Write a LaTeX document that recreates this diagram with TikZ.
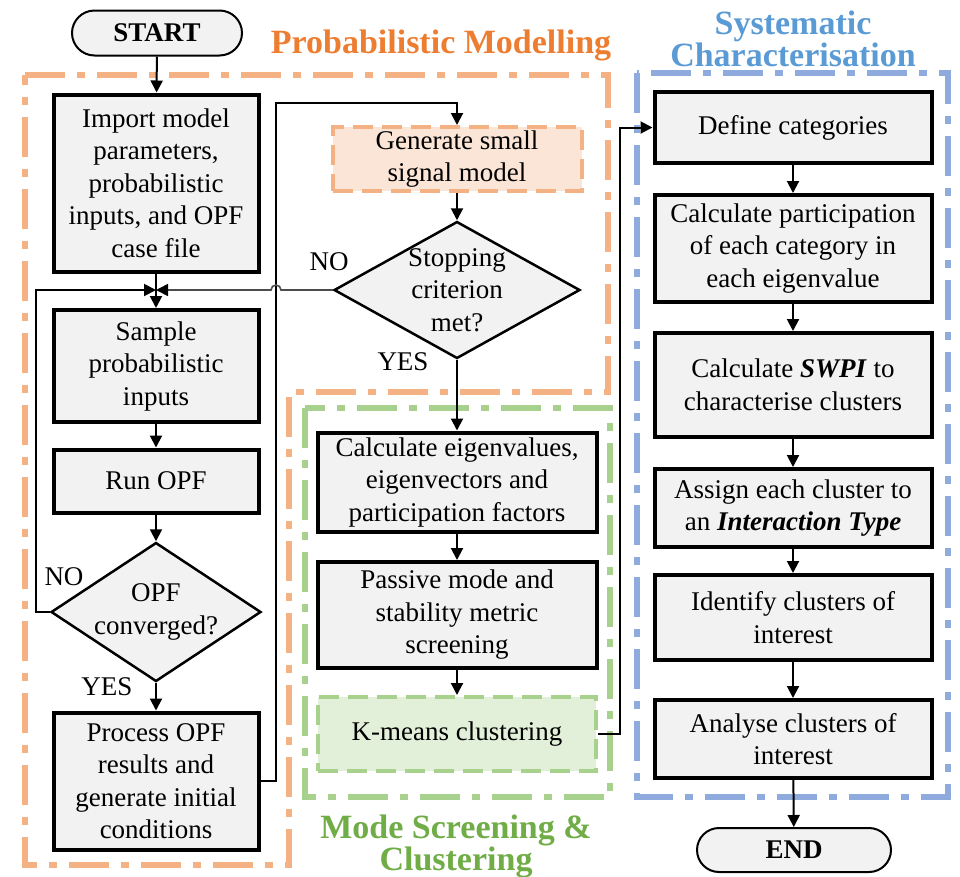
\documentclass[tikz,border=0pt]{standalone}
\usepackage{fontspec}
\setmainfont{Liberation Serif}
\usepackage{tikz}
\usetikzlibrary{arrows.meta, shapes.geometric, shapes.misc}
\definecolor{orgtitle}{HTML}{ED7D31}
\definecolor{orgline}{HTML}{F4B183}
\definecolor{orgfill}{HTML}{FBE5D6}
\definecolor{grntitle}{HTML}{70AD47}
\definecolor{grnline}{HTML}{A9D18E}
\definecolor{grnfill}{HTML}{E2F0D9}
\definecolor{blutitle}{HTML}{5B9BD5}
\definecolor{bluline}{HTML}{8FAADC}
\definecolor{boxfill}{HTML}{F2F2F2}
\tikzstyle{block} = [rectangle, draw, line width=4pt, fill=boxfill,
    align=center, inner sep=0pt, font=\fontsize{27pt}{32.5pt}\selectfont]
\tikzstyle{stage} = [rectangle, draw, line width=4pt, dash pattern=on 20pt off 9pt,
    align=center, inner sep=0pt, font=\fontsize{27pt}{32.5pt}\selectfont]
\tikzstyle{decision} = [diamond, draw, line width=2.5pt, fill=boxfill, inner sep=0pt]
\tikzstyle{qtext} = [align=center, inner sep=0pt, font=\fontsize{27pt}{32.5pt}\selectfont]
\tikzstyle{terminal} = [rounded rectangle, draw, line width=2pt, fill=boxfill,
    inner sep=0pt, font=\bfseries\fontsize{27pt}{32.5pt}\selectfont]

\begin{document}
\begin{tikzpicture}[
x=1pt, y=-1pt,
line/.style = {draw, line width=2pt, -{Triangle[length=12pt, width=12pt, black]}},
region/.style = {line width=6pt, dash pattern=on 40pt off 12pt on 8pt off 12pt},
title/.style = {font=\bfseries\fontsize{34pt}{30pt}\selectfont, align=center},
lbl/.style = {font=\fontsize{27pt}{32.5pt}\selectfont}
                        ]
\useasboundingbox (0,0) rectangle (960,876);
\fill[white] (0,0) rectangle (960,876);
\draw[region, orgline] (25,75) -- (608,75) -- (608,392) -- (289,392) -- (289,865) -- (25,865) -- cycle;
\draw[region, grnline] (305,408) rectangle (610,797);
\draw[region, bluline] (637,73) rectangle (948,797);
\node[title, orgtitle, anchor=base] (tprob) at (441,53) {Probabilistic Modelling};
\node[title, grntitle] (tmode) at (456,846) {Mode Screening \&\\Clustering};
\node[title, blutitle] (tsys) at (793,39) {Systematic\\Characterisation};

\node[terminal, minimum width=170pt, minimum height=45pt] (start) at (157,33) {START};
\node[block, minimum width=205pt, minimum height=177pt] (imp) at (156,183)
    {Import model\\parameters,\\probabilistic\\inputs, and OPF\\case file};
\coordinate (jn) at (156,290);
\node[block, minimum width=205pt, minimum height=112pt] (sample) at (156,366)
    {Sample\\probabilistic\\inputs};
\node[block, minimum width=205pt, minimum height=63pt] (run) at (156,481) {Run OPF};
\node[decision, minimum width=210pt, minimum height=139pt,
    label={[qtext]center:OPF\\converged?}] (opfq) at (156,612) {};
\node[block, minimum width=205pt, minimum height=137pt] (proc) at (156,781)
    {Process OPF\\results and\\generate initial\\conditions};
\node[stage, orgline, fill=orgfill, text=black, minimum width=249pt, minimum height=64pt] (gen) at (457,159)
    {Generate small\\signal model};
\node[decision, minimum width=246pt, minimum height=137pt,
    label={[qtext]center:Stopping\\criterion\\met?}] (stop) at (457,290) {};
\node[block, minimum width=279pt, minimum height=99pt] (eig) at (457,482)
    {Calculate eigenvalues,\\eigenvectors and\\participation factors};
\node[block, minimum width=279pt, minimum height=106pt] (pas) at (457,615)
    {Passive mode and\\stability metric\\screening};
\node[stage, grnline, fill=grnfill, text=black, minimum width=278pt, minimum height=74pt] (kmn) at (457,734)
    {K-means clustering};
\node[block, minimum width=277pt, minimum height=71pt] (def) at (793,127.5) {Define categories};
\node[block, minimum width=277pt, minimum height=107pt] (par) at (793,248.5)
    {Calculate participation\\of each category in\\each eigenvalue};
\node[block, minimum width=277pt, minimum height=104pt] (swpi) at (793,385)
    {Calculate \textbf{\textit{SWPI}} to\\characterise clusters};
\node[block, minimum width=277pt, minimum height=78pt] (asg) at (793,508)
    {Assign each cluster to\\an \textbf{\textit{Interaction Type}}};
\node[block, minimum width=277pt, minimum height=85pt] (idn) at (793,617.5)
    {Identify clusters of\\interest};
\node[block, minimum width=277pt, minimum height=78pt] (ana) at (793,739)
    {Analyse clusters of\\interest};
\node[terminal, minimum width=194pt, minimum height=44pt] (end) at (794,850) {END};

\node[lbl, anchor=base] (no1) at (64,585) {NO};
\node[lbl, anchor=base] (yes1) at (107,695) {YES};
\node[lbl, anchor=base] (no2) at (329,270) {NO};
\node[lbl, anchor=base] (yes2) at (403,370) {YES};

\path[line] (start) -- (imp);
\draw[line width=2pt] (imp) -- (jn);
\path[line] (jn) -- (sample);
\path[line] (sample) -- (run);
\path[line] (run) -- (opfq);
\path[line] (opfq) -- (proc);
\path[line] (opfq.west) -- (36,612) |- (jn);
\path[line] (proc.east) -- (276,781) |- (457,103) -- (gen.north);
\path[line] (gen) -- (stop);
\path[line, line width=1.6pt, draw=black!70] (stop.west) -- (281,290)
    arc[start angle=0, end angle=180, radius=5pt] -- (jn);
\path[line] (stop) -- (eig);
\path[line] (eig) -- (pas);
\path[line] (pas) -- (kmn);
\path[line] (kmn.east) -- (620,734) |- (def.west);
\path[line] (def) -- (par);
\path[line] (par) -- (swpi);
\path[line] (swpi) -- (asg);
\path[line] (asg) -- (idn);
\path[line] (idn) -- (ana);
\path[line] (ana) -- (end);
\end{tikzpicture}
\end{document}
